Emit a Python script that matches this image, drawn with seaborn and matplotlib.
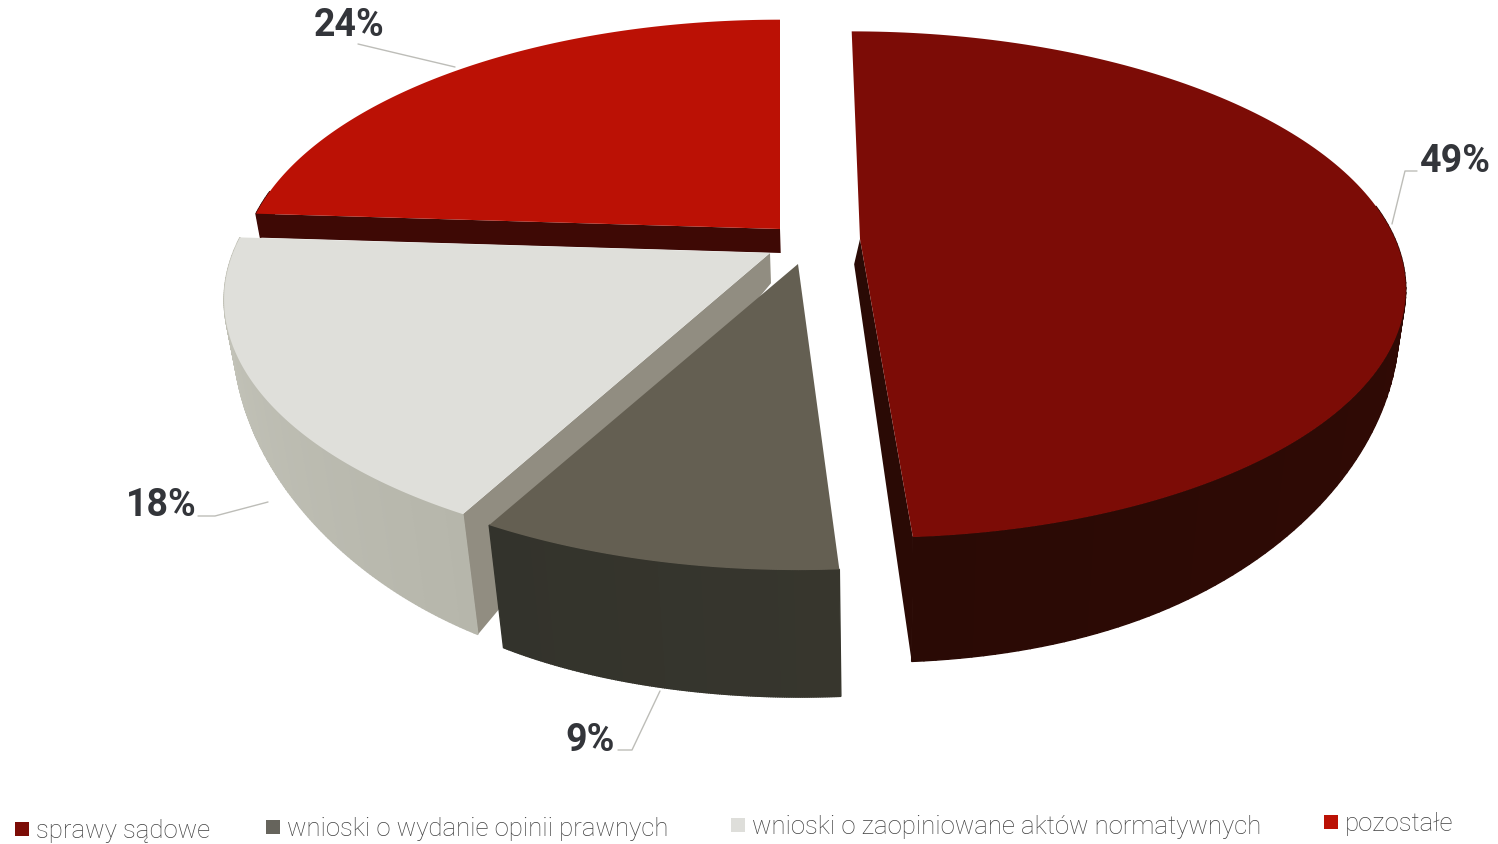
#!/usr/bin/env python3
"""Exploded 3D-looking pie of case types, drawn as projected polygons."""
import numpy as np
import seaborn as sns
import matplotlib.pyplot as plt

categories = ["sprawy sądowe", "wnioski o wydanie opinii prawnych",
              "wnioski o zaopiniowane aktów normatywnych", "pozostałe"]
shares = [49, 9, 18, 24]
legend_colors = ["#7c0c06", "#66645c", "#dededa", "#bb1105"]

# look of each slice: top, side gradient, cut face
top_colors = ["#7c0c06", "#645f52", "#dfdfda", "#bb1105"]
side_colors = [("#3a0a05", "#2a0a05"), ("#37362d", "#33332c"),
               ("#b6b6ab", "#c6c6bc"), ("#3e0905", "#3e0905")]
cut_colors = ["#2a0a05", "#37362d", "#918d81", "#3e0905"]
# apex x, apex y, rx, ry, shear of each slice on the page
geometry = [(860, 240, 535, 245, 0.04), (798, 265, 540, 251, 0.0),
            (770, 254, 537, 251, 0.0), (780, 230, 531, 247, 0.0)]
apex_shift = [-6, 0, 0, 0]
visible_cuts = [(-1,), (), (0,), (0,)]
draw_order = [3, 0, 2, 1]
PERSP = 0.18

sns.set_theme(style="white")
plt.rcParams["font.family"] = ["Roboto", "DejaVu Sans"]


def project(t, r, geo):
    """Disk angle (clockwise from top) and radius -> page coordinates."""
    cx, cy, rx, ry, shear = geo
    u, v = r * np.sin(t), r * np.cos(t)
    d = 1 + PERSP * v
    y = cy - ry * v / d
    return cx + rx * u / d + shear * (y - cy), y


def extrude(x, y):
    """Bottom edge of the slab, the height grows towards the viewer."""
    raw = 0.36 * (y - 170)
    # soft cap so the front rim has no kink
    depth = 128 - 8 * np.logaddexp(0, (128 - raw) / 8)
    depth = np.maximum(depth, 24)
    return x + (880 - x) * depth * 0.0003, y + depth


fig = plt.figure(figsize=(14.98, 8.45), dpi=100)
ax = fig.add_axes([0, 0, 1, 1])
ax.set_xlim(0, 1498)
ax.set_ylim(845, 0)
ax.axis("off")

edges = np.deg2rad(np.cumsum([0] + shares) * 3.6)
for i in draw_order:
    geo = geometry[i]
    t = np.linspace(edges[i], edges[i + 1], 160)
    x, y = project(t, 1.0, geo)
    bx, by = extrude(x, y)
    ax_, ay_ = project(0.0, 0.0, geo)
    abx, aby = extrude(ax_, ay_)
    abx += apex_shift[i]
    # cut faces first, the rim and the top cover what is hidden
    for k in visible_cuts[i]:
        ax.fill([ax_, x[k], bx[k], abx], [ay_, y[k], by[k], aby],
                color=cut_colors[i], lw=0)
    shades = sns.blend_palette(side_colors[i], len(t) - 1)
    for j in range(len(t) - 1):
        if np.cos(t[j]) > 0.15:  # back of the rim is out of sight
            continue
        ax.fill([x[j], x[j + 1], bx[j + 1], bx[j]],
                [y[j], y[j + 1], by[j + 1], by[j]],
                color=shades[j], lw=1)
    ax.fill(np.r_[ax_, x], np.r_[ay_, y], color=top_colors[i], lw=0)

# percent labels with their leader lines
label_x = [1455, 590, 161, 349]
label_y = [162, 741, 506, 26]
leaders = [([1417, 1405, 1392], [172, 172, 225]),
           ([618, 632, 660], [751, 751, 692]),
           ([198, 215, 268], [517, 517, 503]),
           ([358, 400, 455], [45, 55, 68])]
for s, lx, ly, (px, py) in zip(shares, label_x, label_y, leaders):
    ax.plot(px, py, color="#bdbdb8", lw=1)
    ax.text(lx, ly, f"{s}%", fontsize=27, fontweight="bold", color="#33353a",
            ha="center", va="center")

# legend row, the scan sits slightly tilted
legend_x = [22, 273, 738, 1331]
legend_y = [830, 828, 826, 823]
for name, c, lx, ly in zip(categories, legend_colors, legend_x, legend_y):
    ax.scatter([lx], [ly], s=105, marker="s", color=c, lw=0)
    ax.text(lx + 14, ly + 1, name, fontsize=18.5, color="#404040", ha="left",
            va="center", fontweight="light")

sns.despine(fig=fig, left=True, bottom=True)
fig.savefig("out.png", dpi=100)
print("wrote out.png")
